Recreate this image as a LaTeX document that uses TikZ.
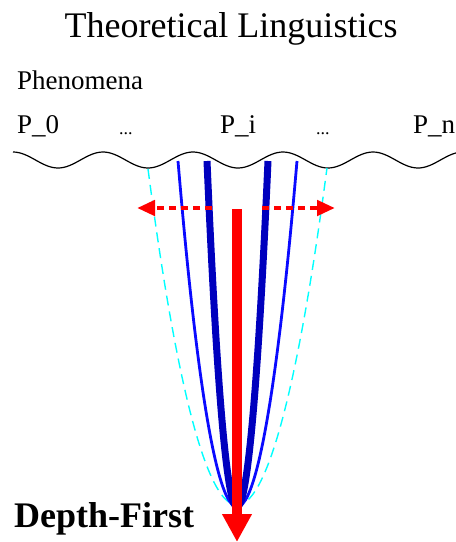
\documentclass[tikz,border=0pt]{standalone}
\usepackage{fontspec}
\setmainfont{Liberation Serif}
\usetikzlibrary{arrows.meta}
\definecolor{darkblue}{RGB}{0,0,190}
\definecolor{brightblue}{RGB}{10,10,255}
\definecolor{aqua}{RGB}{0,255,255}
\tikzset{
  lbl/.style={inner sep=0pt, anchor=base west, font=\fontsize{27}{30}\selectfont},
  dots/.style={inner sep=0pt, anchor=base west, font=\fontsize{18}{20}\selectfont},
  thickpath/.style={draw=darkblue, line width=7pt},
  thinpath/.style={draw=brightblue, line width=2.8pt},
  cyanpath/.style={draw=aqua, line width=1.4pt, dash pattern=on 10pt off 6pt},
  mainarrow/.style={draw=red, line width=10pt, -{Triangle[length=28pt,width=28pt]}},
  sidearrow/.style={draw=red, line width=4.5pt, dash pattern=on 7pt off 5pt, -{Triangle[length=18pt,width=15pt]}}
}
\begin{document}
\begin{tikzpicture}[x=1pt,y=-1pt]
\useasboundingbox (0,0) rectangle (456,542);
% texts
\node[inner sep=0pt, anchor=base, font=\fontsize{36}{40}\selectfont] (title) at (231,37) {Theoretical Linguistics};
\node[lbl] (phen) at (17,89) {Phenomena};
\node[lbl] (p0) at (17,133) {P\_0};
\node[dots] (d1) at (119,134) {...};
\node[lbl] (pi) at (220,133) {P\_i};
\node[dots] (d2) at (316,134) {...};
\node[lbl] (pn) at (413,133) {P\_n};
\node[inner sep=0pt, anchor=base west, font=\bfseries\fontsize{36}{40}\selectfont] (df) at (14,527) {Depth-First};
% wave
\draw[black, line width=1.2pt] plot[domain=13:456, samples=150, smooth] (\x, {160+8*cos(4*(\x-148))});
% search curves
\path[cyanpath] (148,169) parabola bend (237,505) (327,168);
\path[thinpath] (178,161) parabola bend (237,507) (297,161);
\path[thickpath] (207,161) parabola bend (237,507) (268,161);
% arrows
\coordinate (top) at (237,209);
\coordinate (bottom) at (237,542);
\coordinate (lstart) at (212,208);
\coordinate (lend) at (137,208);
\coordinate (rstart) at (262,208);
\coordinate (rend) at (335,208);
\draw[mainarrow] (top) -- (bottom);
\draw[sidearrow] (lstart) -- (lend);
\draw[sidearrow] (rstart) -- (rend);
\end{tikzpicture}
\end{document}
